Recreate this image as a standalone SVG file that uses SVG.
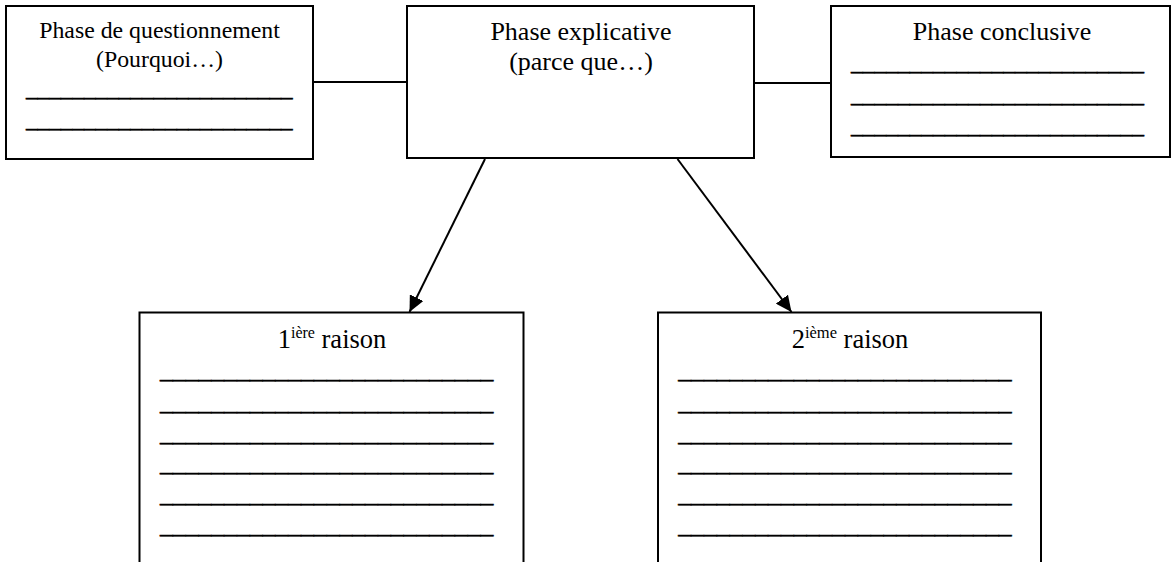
<svg xmlns="http://www.w3.org/2000/svg" width="1172" height="562" viewBox="0 0 1172 562">
  <style>
    .box { fill: #ffffff; stroke: #000000; stroke-width: 2; }
    .t { font-family: "Liberation Serif", "Times New Roman", serif; fill: #000000; text-anchor: start; }
    .c { text-anchor: middle; }
    .u { stroke: #000000; stroke-width: 0.5; }
    .conn { stroke: #000000; stroke-width: 2; fill: none; }
  </style>
  <defs>
    <marker id="arrow" markerUnits="userSpaceOnUse" markerWidth="17" markerHeight="15" refX="16" refY="7.5" orient="auto">
      <path d="M0,0 L16,7.5 L0,15 z" fill="#000000"/>
    </marker>
  </defs>
  <rect width="1172" height="562" fill="#ffffff"/>

  <g id="connectors">
    <line class="conn" x1="313" y1="82" x2="407" y2="82"/>
    <line class="conn" x1="754" y1="83" x2="831" y2="83"/>
    <line class="conn" x1="485" y1="159" x2="409.5" y2="312" marker-end="url(#arrow)"/>
    <line class="conn" x1="677.5" y1="159" x2="791.5" y2="312" marker-end="url(#arrow)"/>
  </g>

  <g id="node-questionnement">
    <rect class="box" x="6" y="6" width="307" height="153"/>
    <text class="t c" x="159.5" y="38" font-size="23.8">Phase de questionnement</text>
    <text class="t c" x="159.5" y="67" font-size="23.8">(Pourquoi…)</text>
    <text class="t u" x="26" y="96" font-size="24" textLength="266.7" lengthAdjust="spacingAndGlyphs">_______________________</text>
    <text class="t u" x="26" y="126.6" font-size="24" textLength="266.7" lengthAdjust="spacingAndGlyphs">_______________________</text>
  </g>

  <g id="node-explicative">
    <rect class="box" x="407" y="6" width="347" height="152"/>
    <text class="t c" x="581" y="40" font-size="26">Phase explicative</text>
    <text class="t c" x="581" y="70" font-size="26">(parce que…)</text>
  </g>

  <g id="node-conclusive">
    <rect class="box" x="831" y="6" width="339" height="151"/>
    <text class="t c" x="1002" y="40" font-size="26">Phase conclusive</text>
    <text class="t u" x="851" y="70.3" font-size="24" textLength="293" lengthAdjust="spacingAndGlyphs">_________________________</text>
    <text class="t u" x="851" y="101.9" font-size="24" textLength="293" lengthAdjust="spacingAndGlyphs">_________________________</text>
    <text class="t u" x="851" y="133.3" font-size="24" textLength="293" lengthAdjust="spacingAndGlyphs">_________________________</text>
  </g>

  <g id="node-raison1">
    <rect class="box" x="139.5" y="312.5" width="384" height="262"/>
    <text class="t c" x="332" y="348" font-size="26.5">1<tspan font-size="16" dy="-10">ière</tspan><tspan dy="10"> raison</tspan></text>
    <text class="t u" x="160" y="378.3" font-size="24" textLength="333.3" lengthAdjust="spacingAndGlyphs">__________________________</text>
    <text class="t u" x="160" y="409.9" font-size="24" textLength="333.3" lengthAdjust="spacingAndGlyphs">__________________________</text>
    <text class="t u" x="160" y="440.6" font-size="24" textLength="333.3" lengthAdjust="spacingAndGlyphs">__________________________</text>
    <text class="t u" x="160" y="470.9" font-size="24" textLength="333.3" lengthAdjust="spacingAndGlyphs">__________________________</text>
    <text class="t u" x="160" y="501.6" font-size="24" textLength="333.3" lengthAdjust="spacingAndGlyphs">__________________________</text>
    <text class="t u" x="160" y="532.9" font-size="24" textLength="333.3" lengthAdjust="spacingAndGlyphs">__________________________</text>
  </g>

  <g id="node-raison2">
    <rect class="box" x="658" y="312.5" width="383" height="262"/>
    <text class="t c" x="850" y="348" font-size="26.5">2<tspan font-size="16.5" dy="-10">ième</tspan><tspan dy="10"> raison</tspan></text>
    <text class="t u" x="678.3" y="378.3" font-size="24" textLength="333.4" lengthAdjust="spacingAndGlyphs">__________________________</text>
    <text class="t u" x="678.3" y="409.9" font-size="24" textLength="333.4" lengthAdjust="spacingAndGlyphs">__________________________</text>
    <text class="t u" x="678.3" y="440.6" font-size="24" textLength="333.4" lengthAdjust="spacingAndGlyphs">__________________________</text>
    <text class="t u" x="678.3" y="470.9" font-size="24" textLength="333.4" lengthAdjust="spacingAndGlyphs">__________________________</text>
    <text class="t u" x="678.3" y="501.6" font-size="24" textLength="333.4" lengthAdjust="spacingAndGlyphs">__________________________</text>
    <text class="t u" x="678.3" y="532.9" font-size="24" textLength="333.4" lengthAdjust="spacingAndGlyphs">__________________________</text>
  </g>
</svg>
